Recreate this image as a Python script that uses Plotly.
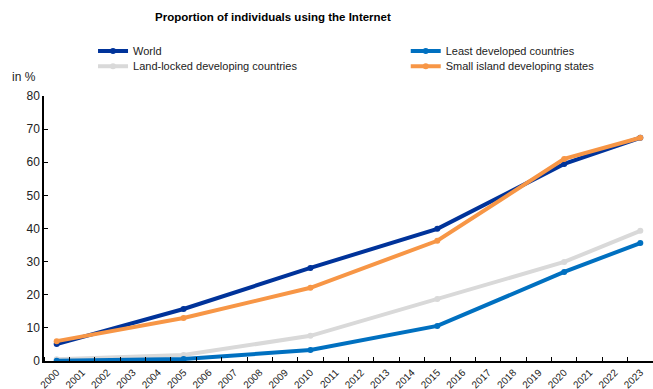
import plotly.graph_objects as go

years = [2000, 2005, 2010, 2015, 2020, 2023]
world = [5.1, 15.7, 28.1, 39.9, 59.5, 67.4]
ldc = [0.1, 0.6, 3.3, 10.6, 26.9, 35.6]
lldc = [0.5, 1.8, 7.6, 18.7, 29.9, 39.3]
sids = [6.0, 13.0, 22.1, 36.3, 61.0, 67.4]
all_years = list(range(2000, 2024))

series = [
    ("World", world, "#00339A", "legend"),
    ("Least developed countries", ldc, "#0070C0", "legend2"),
    ("Land-locked developing countries", lldc, "#D9D9D9", "legend3"),
    ("Small island developing states", sids, "#F79646", "legend4"),
]
draw_order = [2, 1, 0, 3]

font = "Liberation Sans, Arial, sans-serif"
fig = go.Figure()
for i in draw_order:
    name, vals, col, lg = series[i]
    fig.add_trace(go.Scatter(x=years, y=vals, name=name, mode="lines+markers",
                             line=dict(color=col, width=4),
                             marker=dict(color=col, size=6), legend=lg))

def leg(x, y):
    return dict(orientation="h", x=x, xanchor="left", y=y, yanchor="middle",
                font=dict(size=11, color="#222"), bgcolor="rgba(0,0,0,0)")

fig.update_layout(
    width=653, height=389,
    margin=dict(l=44, r=0, t=96, b=28),
    plot_bgcolor="white", paper_bgcolor="white",
    font=dict(family=font, size=12, color="#222"),
    title=dict(text="<b>Proportion of individuals using the Internet</b>", x=0.376, xref="paper",
               xanchor="center", y=0.956, yanchor="middle", font=dict(size=11.5, color="#000")),
    legend=leg(0.0805, 1.1698),
    legend2=leg(0.594, 1.1698),
    legend3=leg(0.0805, 1.1125),
    legend4=leg(0.594, 1.1125),
    showlegend=True,
)
fig.update_xaxes(range=[1999.5, 2023.5], tickvals=all_years, ticktext=[str(y) for y in all_years],
                 tickangle=-45, ticks="", showline=True, linecolor="black", linewidth=1.5,
                 showgrid=False, zeroline=False, tickfont=dict(size=10, color="#222"), automargin=False,
                 minor=dict(tickvals=[y + 0.5 for y in range(1999, 2024)], ticks="inside",
                            ticklen=4, tickcolor="black", tickwidth=1, showgrid=False))
fig.update_yaxes(range=[0, 80], dtick=10, ticks="inside", ticklen=4, tickcolor="black",
                 showline=True, linecolor="black", linewidth=1.5, showgrid=False, zeroline=False,
                 tickfont=dict(size=12, color="#222"), automargin=False)
fig.add_annotation(text="in %", xref="paper", yref="paper", x=-0.01, y=1.072, xanchor="right",
                   yanchor="middle", showarrow=False, font=dict(size=12, color="#222"))
fig.write_html("out.html")
